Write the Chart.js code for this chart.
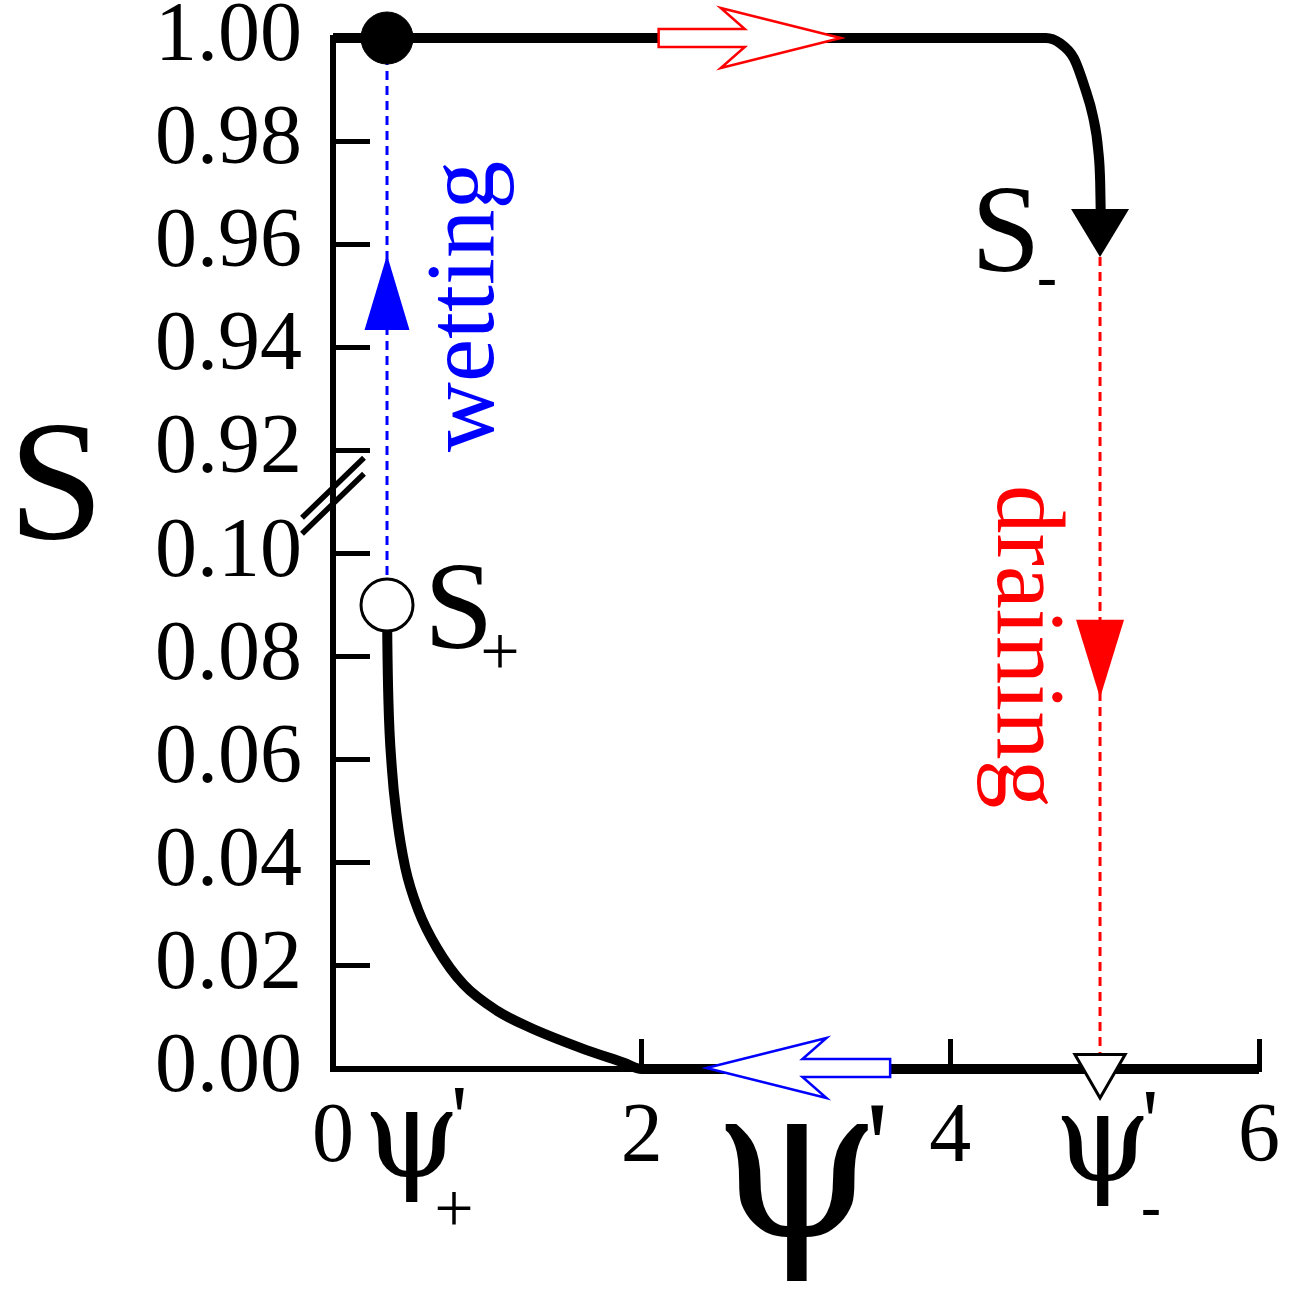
<!DOCTYPE html>
<html>
<head>
<meta charset="utf-8">
<script src="https://cdn.jsdelivr.net/npm/chart.js@4.4.1/dist/chart.umd.min.js"></script>
<style>
  html, body { margin: 0; padding: 0; background: #fff; }
  canvas { display: block; }
</style>
</head>
<body>
<canvas id="myChart" width="1304" height="1305"></canvas>
<script>
// data (psi', S)
const psiLow = [0.35, 0.352, 0.359, 0.381, 0.414, 0.468, 0.554, 0.673, 0.846, 1.063, 1.279, 1.604, 1.885, 2.0, 6.0];
const sLow   = [0.090, 0.083, 0.0715, 0.0585, 0.0488, 0.0391, 0.0307, 0.0235, 0.0164, 0.0113, 0.0080, 0.0041, 0.0012, 0.0, 0.0];

const psiTop = [0, 4.62, 4.71, 4.80, 4.87, 4.925, 4.958, 4.971, 4.974];
const sTop   = [1.0, 1.0, 0.999, 0.9961, 0.9905, 0.9847, 0.9783, 0.9719, 0.9668];

const psiPlus = 0.35, sPlus = 0.09;
const psiMinus = 4.97, sMinus = 0.9575;

const yTickLabels = ['0.00', '0.02', '0.04', '0.06', '0.08', '0.10', '0.92', '0.94', '0.96', '0.98', '1.00'];

// broken axis: 0..0.10 -> 0..5, 0.92..1.00 -> 6..10
function brk(s) {
  return s <= 0.1 ? s / 0.02 : 6 + (s - 0.92) / 0.02;
}
const pts = (xs, ys) => xs.map((v, i) => ({ x: v, y: brk(ys[i]) }));

const serif = '"Liberation Serif", "Times New Roman", serif';
const greek = '"DejaVu Serif", serif';

var overlay = {
  id: 'overlay',
  afterDatasetsDraw(chart) {
    const ctx = chart.ctx;
    const xs = chart.scales.x, ys = chart.scales.y;
    const px = v => xs.getPixelForValue(v);
    const py = s => ys.getPixelForValue(brk(s));
    ctx.save();

    // filled arrow heads (tip, width, length, direction)
    function head(x, y, w, h, dir, color) {
      ctx.fillStyle = color;
      ctx.beginPath();
      ctx.moveTo(x, y);
      ctx.lineTo(x - w / 2, y - dir * h);
      ctx.lineTo(x + w / 2, y - dir * h);
      ctx.closePath();
      ctx.fill();
    }
    head(px(psiMinus), py(sMinus), 58, 48, 1, '#000');
    head(px(psiPlus), py(0.9579), 45, 75, -1, '#0000ff');
    head(px(psiMinus), py(0.072), 48, 78, 1, '#ff0000');

    // open block arrows on the two flat branches
    function block(tip, tail, cy, color) {
      const d = Math.sign(tip - tail);
      ctx.beginPath();
      ctx.moveTo(tip, cy);
      ctx.lineTo(tip - d * 120, cy - 30);
      ctx.lineTo(tip - d * 96, cy - 9);
      ctx.lineTo(tail, cy - 9);
      ctx.lineTo(tail, cy + 9);
      ctx.lineTo(tip - d * 96, cy + 9);
      ctx.lineTo(tip - d * 120, cy + 30);
      ctx.closePath();
      ctx.fillStyle = '#fff';
      ctx.fill();
      ctx.lineWidth = 2.5;
      ctx.strokeStyle = color;
      ctx.stroke();
    }
    block(px(3.29), px(2.11), py(1.0), '#ff0000');
    block(px(2.42), px(3.61), py(0.0) - 1, '#0000ff');

    // axis break marks
    const bx = px(0), by = ys.getPixelForValue(5.56);
    ctx.strokeStyle = '#000';
    ctx.lineWidth = 5.5;
    [-8, 8].forEach(off => {
      ctx.beginPath();
      ctx.moveTo(bx - 31, by + off + 30);
      ctx.lineTo(bx + 31, by + off - 30);
      ctx.stroke();
    });

    // texts
    ctx.fillStyle = '#000';
    ctx.textBaseline = 'alphabetic';
    ctx.textAlign = 'center';
    ctx.font = '172px ' + serif;
    ctx.fillText('S', 56, 538);

    ctx.textAlign = 'left';
    ctx.font = '125px ' + serif;
    ctx.fillText('S', 424, 648);
    ctx.fillText('S', 971, 271);
    ctx.font = '70px ' + serif;
    ctx.textAlign = 'center';
    ctx.fillText('+', 500, 675);
    ctx.fillText('+', 454, 1232);
    ctx.font = 'bold 60px ' + serif;
    ctx.fillText('-', 1047, 296);
    ctx.fillText('-', 1151, 1226);

    // psi labels: glyph and prime drawn apart
    ctx.textAlign = 'left';
    ctx.font = '124px ' + greek;
    ctx.fillText('\u03c8', 363, 1176);
    ctx.fillText('\u03c8', 1054, 1180);
    ctx.font = '92px ' + serif;
    ctx.fillText("'", 451, 1148);
    ctx.fillText("'", 1142, 1152);

    // x axis title
    ctx.font = '216px ' + greek;
    ctx.fillText('\u03c8', 712, 1236);
    ctx.font = '125px ' + serif;
    ctx.fillText("'", 866, 1188);

    ctx.font = '97px ' + serif;
    ctx.fillStyle = '#0000ff';
    ctx.save();
    ctx.translate(493, 452);
    ctx.rotate(-Math.PI / 2);
    ctx.fillText('wetting', 0, 0);
    ctx.restore();

    ctx.fillStyle = '#ff0000';
    ctx.save();
    ctx.translate(998, 485);
    ctx.rotate(Math.PI / 2);
    ctx.fillText('draining', 0, 0);
    ctx.restore();

    ctx.restore();
  }
};

var ctx = document.getElementById('myChart').getContext('2d');
var myChart = new Chart(ctx, {
  type: 'line',
  data: {
    datasets: [
      {
        // S+ open circle
        data: [{ x: psiPlus, y: brk(sPlus) }],
        showLine: false,
        pointRadius: 26,
        pointBackgroundColor: '#fff',
        pointBorderColor: '#000',
        pointBorderWidth: 3,
        clip: false
      },
      {
        // filled circle at S = 1
        data: [{ x: psiPlus, y: brk(1.0) }],
        showLine: false,
        pointRadius: 26,
        pointBackgroundColor: '#000',
        pointBorderColor: '#000',
        pointBorderWidth: 1,
        clip: false
      },
      {
        // psi'- open triangle on the axis
        data: [{ x: psiMinus, y: brk(0) }],
        showLine: false,
        pointStyle: 'triangle',
        rotation: 180,
        pointRadius: 29,
        pointBackgroundColor: '#fff',
        pointBorderColor: '#000',
        pointBorderWidth: 3,
        clip: false
      },
      {
        data: pts(psiLow, sLow),
        borderColor: '#000',
        borderWidth: 10,
        pointRadius: 0,
        cubicInterpolationMode: 'monotone',
        clip: false
      },
      {
        data: pts(psiTop, sTop),
        borderColor: '#000',
        borderWidth: 10,
        pointRadius: 0,
        cubicInterpolationMode: 'monotone',
        clip: false
      },
      {
        // wetting
        data: pts([psiPlus, psiPlus], [sPlus, 1.0]),
        borderColor: '#0000ff',
        borderWidth: 3,
        borderDash: [9, 6],
        pointRadius: 0,
        clip: false
      },
      {
        // draining
        data: pts([psiMinus, psiMinus], [sMinus, 0]),
        borderColor: '#ff0000',
        borderWidth: 3,
        borderDash: [9, 6],
        pointRadius: 0,
        clip: false
      }
    ]
  },
  plugins: [overlay],
  options: {
    responsive: false,
    animation: false,
    layout: { padding: { top: 38, right: 45, left: 0, bottom: 0 } },
    plugins: { legend: { display: false }, tooltip: { enabled: false } },
    scales: {
      x: {
        type: 'linear',
        min: 0,
        max: 6,
        ticks: { stepSize: 2, autoSkip: false, color: '#000', padding: 50, font: { family: serif, size: 84 } },
        grid: { drawOnChartArea: false, drawTicks: true, tickLength: -30, tickWidth: 5, tickColor: '#000' },
        border: { display: true, width: 6, color: '#000' },
        afterFit(s) { s.height = 236; s.paddingLeft = 0; s.paddingRight = 0; }
      },
      y: {
        type: 'linear',
        min: 0,
        max: 10,
        ticks: {
          stepSize: 1,
          autoSkip: false,
          color: '#000',
          padding: 68,
          font: { family: serif, size: 84 },
          callback: v => yTickLabels[v]
        },
        grid: { drawOnChartArea: false, drawTicks: true, tickLength: -37, tickWidth: 5, tickColor: '#000' },
        border: { display: true, width: 6, color: '#000' },
        afterFit(s) { s.width = 333; s.paddingTop = 0; s.paddingBottom = 0; }
      }
    }
  }
});
</script>
</body>
</html>
